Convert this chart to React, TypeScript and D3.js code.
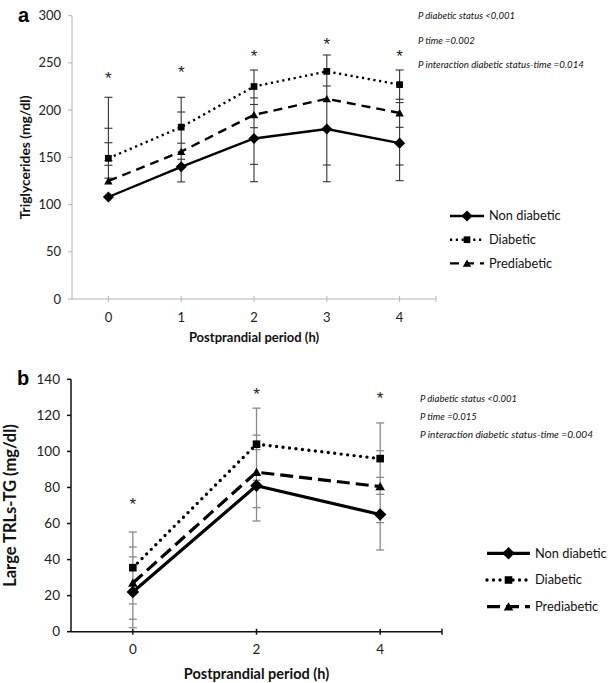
import * as d3 from 'd3'

const seriesNames = ['Non diabetic', 'Diabetic', 'Prediabetic']

// panel a: triglycerides
const aHours = ['0', '1', '2', '3', '4']
const aNonDiabetic = [108, 140, 170, 180, 165]
const aDiabetic = [149, 182, 225, 241, 227]
const aPrediabetic = [125, 156, 195, 212, 197]
const aCaps = [
  [213.6, 180.8, 165.5, 146.5, 141.6, 128],
  [213.6, 198, 165, 148, 124],
  [242.5, 213, 206, 181.4, 142.6, 124.2],
  [258.4, 225.6, 141.9, 124.2],
  [242.5, 211.5, 208, 181.8, 141.9, 125.3],
]
const aStars = [238, 245, 262, 275, 262]
const aYTicks = [0, 50, 100, 150, 200, 250, 300]
const aPValues = ['P diabetic status <0,001', 'P time =0.002', 'P interaction diabetic status-time =0.014']

// panel b: large TRLs-TG
const bHours = ['0', '2', '4']
const bNonDiabetic = [22, 81, 65]
const bDiabetic = [35.5, 104, 96]
const bPrediabetic = [27, 88.5, 80.5]
const bCaps = [
  [55.3, 47, 41.5, 15.4, 6.9, 2.2],
  [124, 109, 101, 84, 68.8, 61.4],
  [115.8, 100.4, 85.6, 76.2, 60.5, 45.3],
]
const bStars = [73, 134, 132]
const bYTicks = [0, 20, 40, 60, 80, 100, 120, 140]
const bPValues = ['P diabetic status <0.001', 'P time =0.015', 'P interaction diabetic status-time =0.004']

const font = 'Lato, "Open Sans", sans-serif'

function marker(kind: number, x: number, y: number, s: number) {
  if (kind === 0) {
    const p = d3.symbol(d3.symbolSquare, s * s * 1.1)()
    return <path d={p ?? ''} transform={`translate(${x},${y}) rotate(45)`} fill="#000" />
  }
  if (kind === 1) {
    const p = d3.symbol(d3.symbolSquare, s * s * 0.8)()
    return <path d={p ?? ''} transform={`translate(${x},${y})`} fill="#000" />
  }
  const p = d3.symbol(d3.symbolTriangle, s * s * 0.55)()
  return <path d={p ?? ''} transform={`translate(${x},${y + 1})`} fill="#000" />
}

function Panel(props: any) {
  const { letter, hours, series, caps, stars, yTicks, yMax, pValues, top, bottom, left, right,
    yLabel, thick, axisColor, barColor, legendX, legendY, legendW, pX, pY, pGap, pWidth } = props

  const x = d3.scalePoint().domain(hours).range([left, right]).padding(0.5)
  const y = d3.scaleLinear().domain([0, yMax]).range([bottom, top])
  const line = d3.line<number>().x((_, i) => x(hours[i])!).y((d) => y(d))

  const lw = thick ? 3.2 : 2.4
  const styles = [
    { dash: undefined, cap: 'butt', w: lw },
    { dash: thick ? '0 6.5' : '2.2 3.6', cap: thick ? 'round' : 'butt', w: thick ? 3.4 : 2.4 },
    { dash: thick ? '13 6' : '9 6', cap: 'butt', w: lw },
  ]
  const ms = thick ? 8.5 : 7.5
  const tickFont = thick ? 13.5 : 13
  const titleFont = thick ? 14.5 : 13

  return (
    <g>
      <text x={left - 54} y={top + 6} fontFamily="Arial, sans-serif" fontWeight="bold" fontSize={20}>{letter}</text>

      {/* y axis */}
      <line x1={left} x2={left} y1={top} y2={bottom} stroke={axisColor} strokeWidth={thick ? 1.5 : 1} />
      {yTicks.map((t: number) => (
        <g key={t}>
          <line x1={left - 4} x2={left} y1={y(t)} y2={y(t)} stroke={axisColor} strokeWidth={thick ? 1.5 : 1} />
          <text x={left - 11} y={y(t)} dy="0.35em" textAnchor="end" fontFamily={font} fontSize={tickFont} fill="#222">{t}</text>
        </g>
      ))}
      <text transform={`translate(${props.yLabelX},${(top + bottom) / 2}) rotate(-90)`} dy="0.35em" textAnchor="middle"
        fontFamily={font} fontWeight="bold" fontSize={props.yLabelFont} fill="#111">{yLabel}</text>

      {/* x axis */}
      <line x1={left} x2={right} y1={bottom} y2={bottom} stroke={axisColor} strokeWidth={thick ? 1.5 : 1} />
      {hours.map((h: string) => (
        <g key={h}>
          <line x1={x(h)} x2={x(h)} y1={bottom - 3} y2={bottom + 3} stroke={axisColor} strokeWidth={thick ? 1.5 : 1} />
          <text x={x(h)} y={bottom + 18} dy="0.35em" textAnchor="middle" fontFamily={font} fontSize={tickFont} fill="#222">{h}</text>
        </g>
      ))}
      <line x1={right} x2={right} y1={bottom - 3} y2={bottom + 3} stroke={axisColor} strokeWidth={thick ? 1.5 : 1} />
      <text x={(left + right) / 2} y={bottom + (thick ? 42 : 38)} dy="0.35em" textAnchor="middle" fontFamily={font}
        fontWeight="bold" fontSize={titleFont} fill="#111">Postprandial period (h)</text>

      {/* error bars */}
      {caps.map((c: number[], i: number) => {
        const cx = x(hours[i])!
        return (
          <g key={i} stroke={barColor} strokeWidth={thick ? 1.3 : 1.1}>
            <line x1={cx} x2={cx} y1={y(d3.max(c)!)} y2={y(d3.min(c)!)} />
            {c.map((v, j) => <line key={j} x1={cx - 4} x2={cx + 4} y1={y(v)} y2={y(v)} />)}
          </g>
        )
      })}

      {/* series */}
      {series.map((vals: number[], k: number) => (
        <g key={k}>
          <path d={line(vals) ?? ''} fill="none" stroke="#000" strokeWidth={styles[k].w}
            strokeDasharray={styles[k].dash} strokeLinecap={styles[k].cap as any} />
          {vals.map((v, i) => <g key={i}>{marker(k, x(hours[i])!, y(v), ms)}</g>)}
        </g>
      ))}

      {/* significance */}
      {stars.map((v: number, i: number) => (
        <text key={i} x={x(hours[i])} y={y(v)} dy="0.6em" textAnchor="middle" fontFamily='"Liberation Sans", Arial, sans-serif'
          fontSize={17} fill="#222">*</text>
      ))}

      {pValues.map((p: string, i: number) => (
        <text key={p} x={pX} y={pY + i * pGap} dy="0.35em" fontFamily={font} fontStyle="italic" fontSize={9.5}
          fill="#111" textLength={i === 2 ? pWidth : undefined} lengthAdjust="spacingAndGlyphs">{p}</text>
      ))}

      {/* legend */}
      {seriesNames.map((name, k) => {
        const ly = legendY + k * props.legendGap
        return (
          <g key={name}>
            <line x1={legendX} x2={legendX + legendW} y1={ly} y2={ly} stroke="#000" strokeWidth={styles[k].w}
              strokeDasharray={styles[k].dash} strokeLinecap={styles[k].cap as any} />
            {marker(k, legendX + legendW / 2, ly, ms)}
            <text x={legendX + legendW + 5} y={ly} dy="0.35em" fontFamily={font} fontSize={12.8} fill="#111">{name}</text>
          </g>
        )
      })}
    </g>
  )
}

export default function App() {
  return (
    <svg width={608} height={683} style={{ position: 'absolute', left: 0, top: 0, background: '#fff' }}>
      <Panel letter="a" hours={aHours} series={[aNonDiabetic, aDiabetic, aPrediabetic]} caps={aCaps} stars={aStars}
        yTicks={aYTicks} yMax={300} pValues={aPValues} top={15.7} bottom={299} left={72} right={436}
        yLabel="Triglycerides (mg/dl)" yLabelX={25} yLabelFont={13.8} thick={false} axisColor="#b4b4b4" barColor="#333"
        legendX={450} legendY={216} legendW={34} legendGap={23.7} pX={418} pY={16} pGap={24.2} pWidth={166} />
      <Panel letter="b" hours={bHours} series={[bNonDiabetic, bDiabetic, bPrediabetic]} caps={bCaps} stars={bStars}
        yTicks={bYTicks} yMax={140} pValues={bPValues} top={379.3} bottom={631.7} left={71} right={442}
        yLabel="Large TRLs-TG (mg/dl)" yLabelX={10} yLabelFont={16.5} thick={true} axisColor="#111" barColor="#8a8a8a"
        legendX={487} legendY={553.3} legendW={43} legendGap={26.7} pX={420} pY={398.3} pGap={18.3} pWidth={173} />
    </svg>
  )
}
